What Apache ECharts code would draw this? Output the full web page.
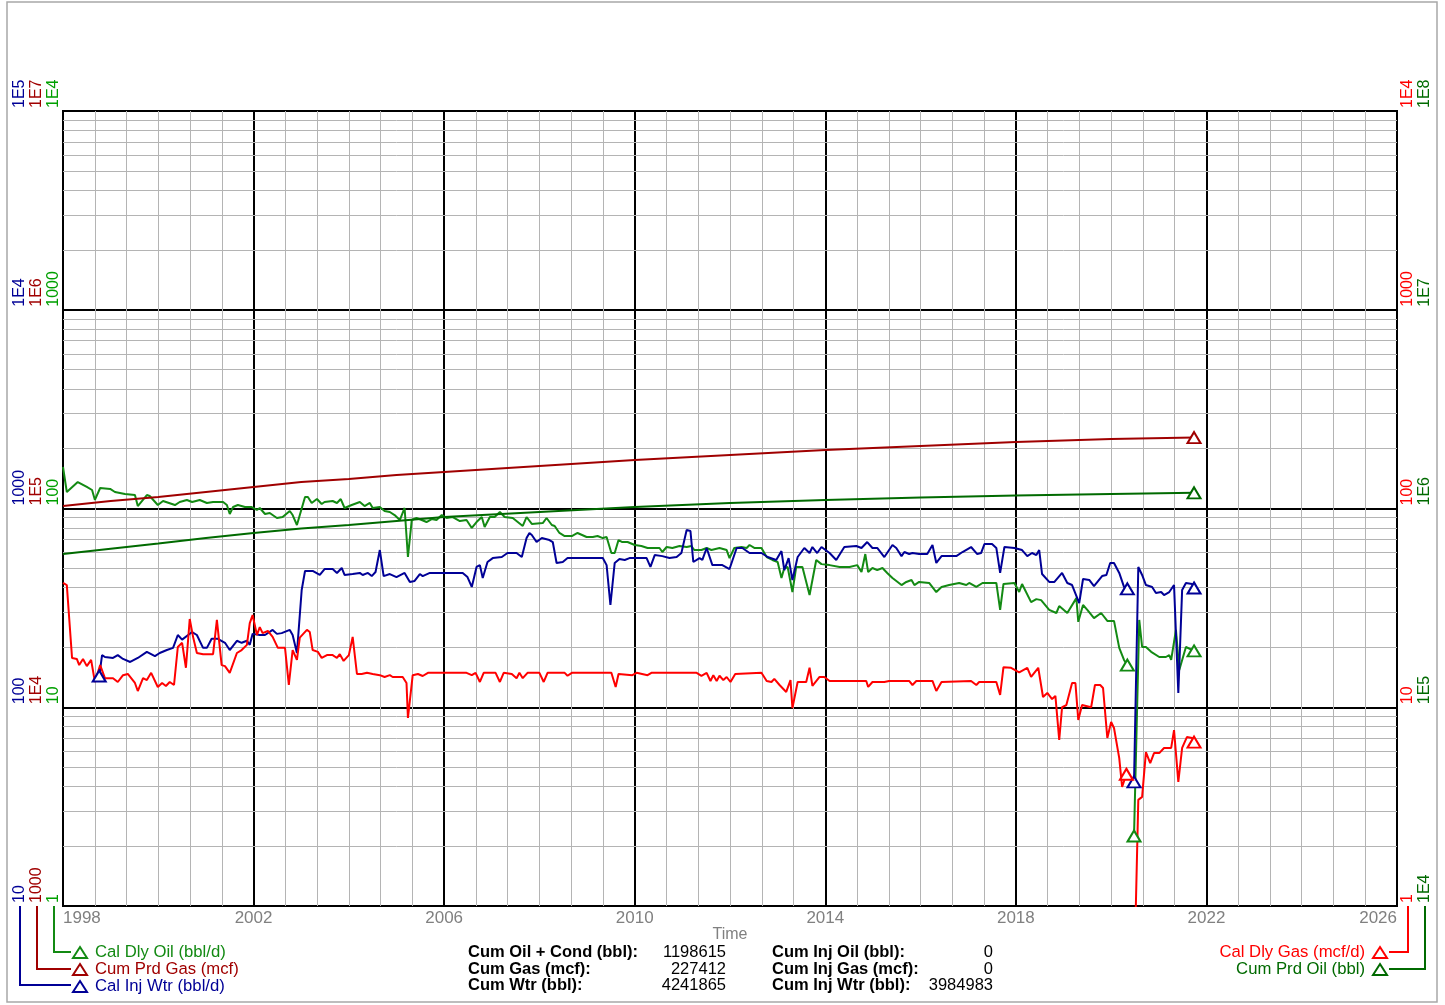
<!DOCTYPE html>
<html>
<head>
<meta charset="utf-8">
<script src="https://cdn.jsdelivr.net/npm/echarts@6/dist/echarts.min.js"></script>
<style>
html, body { margin: 0; padding: 0; background: #fff; }
#chart { width: 1445px; height: 1005px; }
</style>
</head>
<body>
<div id="chart"></div>
<script>
// time in decimal years, values in the units of each curve
const calDlyOil = [[1998.00,161.7],[1998.08,121.1],[1998.31,135.9],[1998.50,128.3],[1998.61,123.9],[1998.67,110.4],[1998.78,126.8],[1998.99,125.4],[1999.09,121.1],[1999.30,118.3],[1999.51,116.9],[1999.57,102.9],[1999.76,116.9],[1999.82,115.6],[1999.99,104.1],[2000.10,109.1],[2000.35,104.1],[2000.45,107.8],[2000.60,110.4],[2000.71,107.8],[2000.87,110.4],[2001.02,106.6],[2001.15,107.8],[2001.36,107.8],[2001.44,104.1],[2001.50,93.8],[2001.57,101.7],[2001.67,104.1],[2001.82,101.7],[2001.96,101.7],[2002.07,98.3],[2002.13,100.6],[2002.24,93.8],[2002.34,94.9],[2002.49,89.6],[2002.61,90.6],[2002.76,97.2],[2002.82,92.7],[2002.91,82.6],[2003.08,114.3],[2003.14,114.3],[2003.22,106.6],[2003.33,111.6],[2003.43,105.3],[2003.49,107.8],[2003.66,109.1],[2003.75,106.6],[2003.83,111.6],[2003.91,100.6],[2004.06,104.1],[2004.23,107.8],[2004.33,102.9],[2004.44,106.6],[2004.50,100.6],[2004.65,101.7],[2004.75,97.2],[2004.86,96.0],[2004.96,92.7],[2005.07,87.5],[2005.17,100.6],[2005.24,57.0],[2005.32,87.5],[2005.42,89.6],[2005.53,87.5],[2005.63,85.5],[2005.74,88.5],[2005.84,87.5],[2005.95,92.7],[2006.05,89.6],[2006.18,90.6],[2006.33,86.5],[2006.47,87.5],[2006.58,79.8],[2006.68,85.5],[2006.79,90.6],[2006.85,80.7],[2006.96,90.6],[2007.06,90.6],[2007.17,96.0],[2007.27,90.6],[2007.44,89.6],[2007.65,81.7],[2007.73,90.6],[2007.84,83.6],[2008.07,84.5],[2008.15,89.6],[2008.26,82.6],[2008.32,81.7],[2008.42,75.3],[2008.53,72.7],[2008.68,72.7],[2008.80,75.3],[2008.99,71.9],[2009.12,71.9],[2009.22,72.7],[2009.33,71.0],[2009.41,71.9],[2009.51,59.7],[2009.58,59.7],[2009.66,69.4],[2009.74,67.8],[2009.85,67.8],[2010.00,65.5],[2010.14,64.8],[2010.27,63.3],[2010.52,63.3],[2010.58,60.4],[2010.67,64.0],[2010.79,63.3],[2010.94,64.8],[2011.09,64.0],[2011.19,64.8],[2011.25,61.8],[2011.40,61.8],[2011.51,63.3],[2011.61,61.8],[2011.78,63.3],[2011.93,61.8],[2011.99,56.3],[2012.09,63.3],[2012.24,64.0],[2012.35,63.3],[2012.41,65.5],[2012.51,63.3],[2012.66,63.3],[2012.77,57.0],[2012.89,55.1],[2013.00,53.8],[2013.08,44.7],[2013.14,50.2],[2013.21,50.8],[2013.31,38.0],[2013.39,50.8],[2013.52,50.8],[2013.67,36.7],[2013.81,55.1],[2013.92,52.5],[2014.09,51.9],[2014.30,50.8],[2014.51,50.8],[2014.67,51.9],[2014.76,47.9],[2014.84,59.0],[2014.90,47.9],[2014.99,50.2],[2015.09,49.0],[2015.20,50.2],[2015.30,47.4],[2015.41,44.7],[2015.60,41.2],[2015.70,42.7],[2015.81,43.7],[2015.87,41.2],[2015.97,42.7],[2016.18,42.2],[2016.33,38.0],[2016.44,40.3],[2016.60,41.2],[2016.81,42.2],[2016.96,41.2],[2017.02,42.2],[2017.17,40.3],[2017.30,42.2],[2017.44,42.2],[2017.59,42.2],[2017.67,30.9],[2017.74,41.7],[2017.97,42.2],[2018.07,38.0],[2018.13,41.7],[2018.32,33.8],[2018.43,35.0],[2018.53,34.6],[2018.70,30.9],[2018.85,29.8],[2018.91,32.3],[2019.08,29.8],[2019.27,35.4],[2019.31,26.9],[2019.41,32.7],[2019.50,30.9],[2019.64,28.1],[2019.79,29.8],[2019.92,27.2],[2020.06,27.2],[2020.17,19.9],[2020.27,17.3],[2020.34,16.3],null,[2020.48,2.25],[2020.59,27.5],[2020.65,20.1],[2020.73,20.1],[2020.84,19.0],[2021.01,17.9],[2021.15,17.9],[2021.22,18.3],[2021.26,17.3],[2021.36,24.5],[2021.43,15.4],[2021.57,20.1],[2021.74,19.2]];

const calInjWtr = [[1998.76,143.6],[1998.82,183],[1998.88,179],[1999.05,177],[1999.15,183],[1999.26,175],[1999.41,169],[1999.57,177],[1999.76,190],[1999.93,181],[2000.03,187.5],[2000.18,194],[2000.31,199],[2000.41,231],[2000.50,219],[2000.71,239],[2000.81,231],[2000.94,199],[2001.02,199],[2001.12,221],[2001.25,221],[2001.40,211],[2001.50,194],[2001.65,216],[2001.75,211],[2001.86,216],[2001.92,206],[2001.98,234],[2002.13,231],[2002.24,231],[2002.40,245],[2002.49,234],[2002.59,236],[2002.76,245],[2002.82,231],[2002.91,187.5],[2003.01,389],[2003.08,485],[2003.24,485],[2003.39,463],[2003.49,496],[2003.66,496],[2003.75,474],[2003.85,502],[2003.91,463],[2004.08,468],[2004.23,474],[2004.29,463],[2004.40,474],[2004.48,457],[2004.56,479],[2004.65,618],[2004.73,457],[2004.86,468],[2005.00,452],[2005.17,474],[2005.28,427],[2005.38,432],[2005.49,468],[2005.55,457],[2005.70,474],[2006.39,474],[2006.49,452],[2006.58,403],[2006.68,508],[2006.75,519],[2006.81,447],[2006.91,538],[2007.02,563],[2007.21,570],[2007.33,597],[2007.52,597],[2007.63,570],[2007.73,710],[2007.79,753],[2007.84,736],[2007.94,678],[2008.05,710],[2008.21,694],[2008.28,678],[2008.36,532],[2008.49,538],[2008.59,563],[2009.33,563],[2009.41,519],[2009.49,327],[2009.58,532],[2009.68,557],[2009.79,551],[2009.89,563],[2010.25,563],[2010.33,508],[2010.42,583],[2010.58,576],[2010.73,563],[2010.88,570],[2010.98,597],[2011.09,779],[2011.17,770],[2011.23,538],[2011.36,563],[2011.42,551],[2011.51,633],[2011.63,519],[2011.84,519],[2011.99,496],[2012.14,633],[2012.26,633],[2012.41,597],[2012.66,597],[2012.79,570],[2012.97,551],[2013.08,611],[2013.14,490],[2013.23,563],[2013.31,437],[2013.42,570],[2013.56,633],[2013.67,597],[2013.73,640],[2013.83,597],[2013.92,640],[2014.09,597],[2014.23,551],[2014.40,640],[2014.65,648],[2014.76,633],[2014.88,678],[2014.99,633],[2015.09,633],[2015.24,570],[2015.41,655],[2015.49,633],[2015.60,576],[2015.66,604],[2015.76,590],[2015.83,597],[2015.97,590],[2016.14,590],[2016.25,655],[2016.33,532],[2016.44,576],[2016.75,576],[2016.88,604],[2017.06,640],[2017.19,590],[2017.27,597],[2017.34,662],[2017.50,662],[2017.59,633],[2017.67,474],[2017.76,640],[2017.97,633],[2018.13,618],[2018.24,576],[2018.34,597],[2018.43,583],[2018.49,618],[2018.55,468],[2018.70,427],[2018.81,427],[2018.97,474],[2019.08,422],[2019.18,412],[2019.33,334],[2019.41,442],[2019.54,437],[2019.64,407],[2019.81,457],[2019.90,463],[2019.98,532],[2020.06,532],[2020.17,474],[2020.27,403],[2020.34,394],null,[2020.48,42.1],[2020.57,508],[2020.65,463],[2020.73,412],[2020.86,403],[2020.94,376],[2021.05,380],[2021.11,367],[2021.22,380],[2021.32,412],[2021.41,118],[2021.49,389],[2021.57,422],[2021.70,417],[2021.74,398]];

const calDlyGas = [[1998.00,42.2],[1998.08,41.2],[1998.19,17.7],[1998.29,17.5],[1998.34,16.3],[1998.42,17.5],[1998.50,16.1],[1998.59,17.3],[1998.67,13.4],[1998.78,16.3],[1998.88,14.0],[1999.05,14.0],[1999.15,13.4],[1999.26,14.5],[1999.36,14.7],[1999.51,13.25],[1999.57,12.07],[1999.68,14.0],[1999.76,13.7],[1999.85,14.9],[1999.99,12.65],[2000.08,13.25],[2000.16,12.8],[2000.24,13.4],[2000.33,12.94],[2000.41,20.1],[2000.50,21.1],[2000.58,15.8],[2000.66,27.8],[2000.73,22.6],[2000.81,18.75],[2000.94,18.5],[2001.15,18.5],[2001.23,27.5],[2001.33,16.3],[2001.40,16.1],[2001.50,14.9],[2001.65,18.75],[2001.75,19.4],[2001.86,20.6],[2001.92,26.5],[2001.98,29.1],[2002.07,23.1],[2002.13,25.3],[2002.19,23.6],[2002.30,24.2],[2002.40,22.6],[2002.51,19.9],[2002.66,19.9],[2002.74,12.94],[2002.82,19.4],[2002.91,17.3],[2002.97,22.4],[2003.12,24.5],[2003.18,23.9],[2003.24,19.4],[2003.35,19.0],[2003.43,17.7],[2003.54,18.3],[2003.66,18.3],[2003.75,17.7],[2003.81,18.5],[2003.89,17.1],[2004.00,18.3],[2004.08,22.6],[2004.17,14.7],[2004.27,14.7],[2004.38,14.9],[2004.50,14.7],[2004.65,14.5],[2004.75,14.2],[2004.86,14.5],[2004.92,14.2],[2005.13,14.2],[2005.21,13.25],[2005.24,8.83],[2005.34,14.5],[2005.45,14.7],[2005.55,14.36],[2005.66,14.9],[2006.47,14.9],[2006.58,14.5],[2006.66,14.9],[2006.75,13.4],[2006.83,14.9],[2007.08,14.9],[2007.17,13.4],[2007.25,14.9],[2007.42,14.7],[2007.52,14.0],[2007.58,14.9],[2007.65,14.0],[2007.75,14.9],[2008.00,14.9],[2008.09,13.4],[2008.17,14.9],[2008.53,14.9],[2008.59,14.4],[2008.68,14.9],[2009.51,14.9],[2009.60,12.65],[2009.66,14.7],[2009.95,14.5],[2010.04,14.9],[2010.27,14.5],[2010.35,14.9],[2011.30,14.9],[2011.40,14.4],[2011.51,14.9],[2011.59,13.56],[2011.65,14.5],[2011.72,13.56],[2011.78,14.4],[2011.86,13.7],[2011.93,14.2],[2012.01,13.4],[2012.11,14.7],[2012.66,14.9],[2012.77,13.56],[2012.87,13.4],[2012.93,13.9],[2013.04,12.94],[2013.18,11.94],[2013.27,13.7],[2013.31,9.9],[2013.42,13.4],[2013.60,13.4],[2013.67,15.8],[2013.73,12.8],[2013.88,14.2],[2013.98,14.2],[2014.09,13.56],[2014.86,13.56],[2014.90,12.65],[2014.99,13.4],[2015.24,13.4],[2015.28,13.1],[2015.34,13.56],[2015.76,13.56],[2015.83,12.94],[2015.91,13.56],[2016.25,13.56],[2016.33,12.07],[2016.44,13.4],[2017.06,13.56],[2017.17,12.94],[2017.23,13.4],[2017.59,13.4],[2017.67,11.53],[2017.74,15.9],[2017.90,15.8],[2018.07,15.0],[2018.24,15.8],[2018.32,14.2],[2018.47,15.8],[2018.57,11.26],[2018.66,11.8],[2018.76,11.0],[2018.83,11.4],[2018.91,6.84],[2018.97,10.0],[2019.06,10.26],[2019.18,13.25],[2019.25,13.25],[2019.31,8.63],[2019.39,10.26],[2019.58,10.0],[2019.66,12.94],[2019.77,12.94],[2019.83,12.5],[2019.92,7.0],[2020.00,8.43],[2020.06,7.86],[2020.17,5.55],[2020.23,3.97],[2020.32,4.6],null,[2020.48,0.4],[2020.57,3.42],[2020.65,3.54],[2020.73,5.95],[2020.82,5.24],[2020.90,5.88],[2021.01,5.88],[2021.11,6.24],[2021.26,6.24],[2021.32,7.68],[2021.41,4.21],[2021.49,6.24],[2021.59,7.08],[2021.70,7.0],[2021.74,6.68]];

const cumPrdGas = [[1998.0,102900],[1999.0,109100],[2000.0,114300],[2001.0,121100],[2002.0,128300],[2003.0,135900],[2004.0,140700],[2005.0,147500],[2006.0,152700],[2008.0,163600],[2010.0,175400],[2012.0,185800],[2014.0,197000],[2016.0,206300],[2018.0,216100],[2020.0,223700],[2021.74,227412]];

const cumPrdOil = [[1998.0,590000],[1999.0,628000],[2000.0,667000],[2001.0,710500],[2002.0,753000],[2003.0,793000],[2004.0,826000],[2005.0,865000],[2006.0,906000],[2008.0,960000],[2010.0,1017000],[2012.0,1066000],[2014.0,1104000],[2016.0,1136000],[2018.0,1163000],[2020.0,1183000],[2021.74,1198615]];

// times where a triangle marker is drawn
const oilMarks = [2020.34, 2020.48, 2021.74];
const wtrMarks = [1998.76, 2020.34, 2020.48, 2021.74];
const gasMarks = [2020.32, 2021.74];
const cumMarks = [2021.74];

const summaryLeft = [['Cum Oil + Cond (bbl):', '1198615'], ['Cum Gas (mcf):', '227412'], ['Cum Wtr (bbl):', '4241865']];
const summaryRight = [['Cum Inj Oil (bbl):', '0'], ['Cum Inj Gas (mcf):', '0'], ['Cum Inj Wtr (bbl):', '3984983']];

const FONT = '"Liberation Sans", Arial, sans-serif';
const cOil = '#138a13', cCumOil = '#006a00', cGas = '#ff0000', cCumGas = '#a00000', cWtr = '#000096';

// log minor grid: 2..9 in every decade of the 1..1E4 axis
const minorY = [];
[1, 10, 100, 1000].forEach(d => { for (let k = 2; k <= 9; k++) minorY.push({ yAxis: k * d }); });

function expLabel(v) {
  const e = Math.round(Math.log10(v));
  return e >= 4 ? '1E' + e : String(Math.pow(10, e));
}

function logAxis(min, max, pos, offset, color, split) {
  return {
    type: 'log', logBase: 10, min: min, max: max, position: pos, offset: offset,
    axisLine: { show: false }, axisTick: { show: false },
    splitLine: { show: split, lineStyle: { color: '#000', width: 2 } },
    axisLabel: {
      rotate: 90, align: 'left', verticalAlign: 'middle', margin: 0, padding: [0, 0, 0, 3],
      color: color, fontSize: 16, fontFamily: FONT, formatter: expLabel
    }
  };
}

function lineSeries(name, data, yIdx, color, marks) {
  return {
    name: name, type: 'line', yAxisIndex: yIdx,
    data: data.map(p => p === null ? null :
      (marks.indexOf(p[0]) >= 0 ? { value: p, symbol: 'emptyTriangle', symbolSize: [13, 11] } : p)),
    symbol: 'none', showSymbol: true, connectNulls: false,
    lineStyle: { color: color, width: 2 }, itemStyle: { color: color },
    emphasis: { disabled: true }, silent: true, z: 3
  };
}

const chart = echarts.init(document.getElementById('chart'));

const oilSeries = lineSeries('Cal Dly Oil (bbl/d)', calDlyOil, 0, cOil, oilMarks);
oilSeries.markLine = {
  silent: true, symbol: ['none', 'none'], label: { show: false }, z: 1, animation: false,
  lineStyle: { color: '#b4b4b4', width: 1, type: 'solid' }, emphasis: { disabled: true },
  data: minorY
};

const rows = [952, 969, 985];
const graphics = [
  { type: 'rect', silent: true, shape: { x: 7, y: 2, width: 1430, height: 1000 }, style: { fill: null, stroke: '#a8a8a8', lineWidth: 1.5 } },
  { type: 'polyline', silent: true, shape: { points: [[20, 906], [20, 985], [71, 985]] }, style: { stroke: cWtr, lineWidth: 2, fill: null } },
  { type: 'polyline', silent: true, shape: { points: [[37, 906], [37, 969], [71, 969]] }, style: { stroke: cCumGas, lineWidth: 2, fill: null } },
  { type: 'polyline', silent: true, shape: { points: [[54, 906], [54, 952], [71, 952]] }, style: { stroke: cOil, lineWidth: 2, fill: null } },
  { type: 'polyline', silent: true, shape: { points: [[1408, 906], [1408, 952], [1389, 952]] }, style: { stroke: cGas, lineWidth: 2, fill: null } },
  { type: 'polyline', silent: true, shape: { points: [[1425, 906], [1425, 969], [1389, 969]] }, style: { stroke: cCumOil, lineWidth: 2, fill: null } }
];
summaryLeft.forEach((r, i) => {
  graphics.push({ type: 'text', silent: true, x: 468, y: rows[i], style: { text: r[0], font: 'bold 16.5px ' + FONT, fill: '#000', align: 'left', verticalAlign: 'middle' } });
  graphics.push({ type: 'text', silent: true, x: 726, y: rows[i], style: { text: r[1], font: '16.5px ' + FONT, fill: '#000', align: 'right', verticalAlign: 'middle' } });
});
summaryRight.forEach((r, i) => {
  graphics.push({ type: 'text', silent: true, x: 772, y: rows[i], style: { text: r[0], font: 'bold 16.5px ' + FONT, fill: '#000', align: 'left', verticalAlign: 'middle' } });
  graphics.push({ type: 'text', silent: true, x: 993, y: rows[i], style: { text: r[1], font: '16.5px ' + FONT, fill: '#000', align: 'right', verticalAlign: 'middle' } });
});

const legendCommon = {
  orient: 'vertical', top: 944, padding: 0, itemGap: 0, itemWidth: 14, itemHeight: 11,
  icon: 'emptyTriangle', selectedMode: false,
  textStyle: { fontSize: 16.7, lineHeight: 16.5, fontFamily: FONT }
};

chart.setOption({
  animation: false,
  backgroundColor: '#fff',
  grid: { left: 63, right: 48, top: 111, bottom: 99, show: true, borderColor: '#000', borderWidth: 2, outerBoundsMode: 'none', containLabel: false },
  xAxis: {
    type: 'value', min: 1998, max: 2026, interval: 4,
    axisLine: { show: false }, axisTick: { show: false },
    splitLine: { show: true, lineStyle: { color: '#000', width: 2 } },
    minorTick: { show: false, splitNumber: 6 },
    minorSplitLine: { show: true, lineStyle: { color: '#b4b4b4', width: 1 } },
    axisLabel: { color: '#808080', fontSize: 17, fontFamily: FONT, margin: 4, alignMinLabel: 'left', alignMaxLabel: 'right', formatter: v => String(v) },
    name: 'Time', nameLocation: 'middle', nameGap: 21, nameMoveOverlap: false,
    nameTextStyle: { color: '#808080', fontSize: 16, fontFamily: FONT }
  },
  yAxis: [
    logAxis(1, 1e4, 'left', 9, '#00a000', true),
    logAxis(1e3, 1e7, 'left', 26, cCumGas, false),
    logAxis(10, 1e5, 'left', 43, cWtr, false),
    logAxis(1, 1e4, 'right', 11, cGas, false),
    logAxis(1e4, 1e8, 'right', 28, cCumOil, false)
  ],
  legend: [
    Object.assign({}, legendCommon, {
      left: 72,
      textStyle: Object.assign({}, legendCommon.textStyle, { padding: [0, 0, 0, 3] }),
      data: [
        { name: 'Cal Dly Oil (bbl/d)', textStyle: { color: cOil } },
        { name: 'Cum Prd Gas (mcf)', textStyle: { color: cCumGas } },
        { name: 'Cal Inj Wtr (bbl/d)', textStyle: { color: cWtr } }
      ]
    }),
    Object.assign({}, legendCommon, {
      right: 57, align: 'right',
      textStyle: Object.assign({}, legendCommon.textStyle, { padding: [0, 3, 0, 0] }),
      data: [
        { name: 'Cal Dly Gas (mcf/d)', textStyle: { color: cGas } },
        { name: 'Cum Prd Oil (bbl)', textStyle: { color: cCumOil } }
      ]
    })
  ],
  series: [
    oilSeries,
    lineSeries('Cum Prd Gas (mcf)', cumPrdGas, 1, cCumGas, cumMarks),
    lineSeries('Cal Inj Wtr (bbl/d)', calInjWtr, 2, cWtr, wtrMarks),
    lineSeries('Cal Dly Gas (mcf/d)', calDlyGas, 3, cGas, gasMarks),
    lineSeries('Cum Prd Oil (bbl)', cumPrdOil, 4, cCumOil, cumMarks)
  ],
  graphic: graphics
});
</script>
</body>
</html>
